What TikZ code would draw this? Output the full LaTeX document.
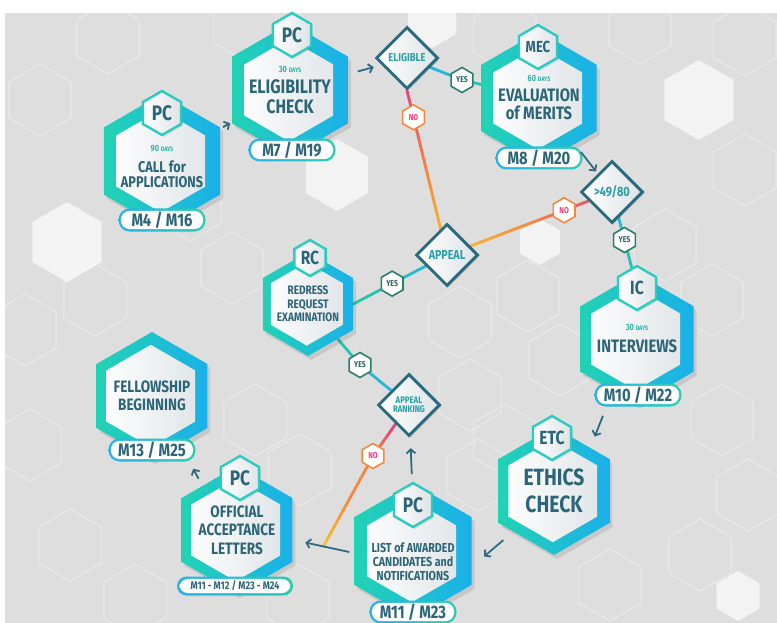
\documentclass[tikz,border=0pt]{standalone}
\usepackage{fontspec}
\newfontfamily\hexfont[FakeStretch=0.82]{Fira Sans}
\usetikzlibrary{shapes.geometric, calc, arrows.meta, shadows}
\pgfdeclarelayer{bg}
\pgfdeclarelayer{links}
\pgfsetlayers{bg,links,main}

\definecolor{bggrey}{HTML}{DEDEDE}
\definecolor{hexteal}{HTML}{22D2B4}
\definecolor{hexblue}{HTML}{1AB0EA}
\definecolor{innerg}{HTML}{DEE3E6}
\definecolor{dtext}{HTML}{2C6577}
\definecolor{daytext}{HTML}{2EB3A6}
\definecolor{badgeteal}{HTML}{2BCBC0}
\definecolor{pillblue}{HTML}{29B2EA}
\definecolor{pillteal}{HTML}{2ACDB2}
\definecolor{decborder}{HTML}{2B6B7F}
\definecolor{dectext}{HTML}{2A9FA6}
\definecolor{yesc}{HTML}{2B7D6D}
\definecolor{yestext}{HTML}{2C5E66}
\definecolor{nopink}{HTML}{EE3D7B}
\definecolor{noorange}{HTML}{F5883C}
\definecolor{noyellow}{HTML}{F8C22E}
\definecolor{linkcyan}{HTML}{25B6E2}
\definecolor{linkteal}{HTML}{2BC6A2}
\colorlet{linkmid}{linkcyan!50!linkteal}
\definecolor{arrowc}{HTML}{2F6A80}

\newcommand\fs[1]{\fontsize{#1}{#1}\selectfont}
\newcommand\stagefont{\hexfont\bfseries}
\newcommand\days[1]{{\color{daytext}\fs{9}#1 \fs{6.5}DAYS}}
\newcommand\hexpath[1]{+(90:#1) -- +(30:#1) -- +(-30:#1) -- +(-90:#1) -- +(-150:#1) -- +(150:#1) -- cycle}
\newcommand\innerhex[1]{\pgfmathsetlengthmacro\hr{#1}%
  \shade[left color=white, right color=innerg] ([xshift=-1.2pt]path picture bounding box.center) \hexpath{\hr};}
% gradient connector: from, to, three colours
\newcommand\gline[5]{%
  \foreach \k in {0,...,19}{%
    \pgfmathsetmacro\ta{\k/20}%
    \pgfmathsetmacro\tb{(\k+1)/20}%
    \ifnum\k<10
      \pgfmathtruncatemacro\pc{95-10*\k}\colorlet{segc}{#3!\pc!#4}%
    \else
      \pgfmathtruncatemacro\pc{195-10*\k}\colorlet{segc}{#4!\pc!#5}%
    \fi
    \draw[link, segc] ($(#1)!\ta!(#2)$) -- ($(#1)!\tb!(#2)$);
  }}

\tikzset{stage/.style={regular polygon, regular polygon sides=6, shape border rotate=30,
           minimum size=#1, inner sep=0pt, left color=hexteal, right color=hexblue,
           drop shadow={shadow xshift=3pt, shadow yshift=-4pt, opacity=.1, fill=black},
           path picture={\innerhex{0.4*#1}}, text=dtext, align=center},
         stage/.default=128pt,
         badge/.style={regular polygon, regular polygon sides=6, shape border rotate=30,
           minimum size=#1, inner sep=0pt, draw=badgeteal, line width=2.4pt,
           left color=white, right color=innerg, text=dtext, font=\stagefont\fs{21},
           drop shadow={shadow xshift=1.5pt, shadow yshift=-2pt, opacity=.1, fill=black}},
         badge/.default=44pt,
         pill/.style={rectangle, rounded corners=11pt, minimum width=87pt, minimum height=23pt,
           inner sep=0pt, left color=pillblue, right color=pillteal, text=dtext, font=\stagefont\fs{18},
           path picture={\shade[left color=white, right color=white!85!innerg, rounded corners=8.6pt]
             ([shift={(2.4pt,2.4pt)}]path picture bounding box.south west) rectangle
             ([shift={(-2.4pt,-2.4pt)}]path picture bounding box.north east);}},
         decision/.style={diamond, aspect=1, minimum size=62pt, inner sep=0pt, draw=decborder,
           line width=3pt, left color=white, right color=innerg, text=dectext,
           font=\stagefont\fs{11.5}, align=center,
           drop shadow={shadow xshift=1.5pt, shadow yshift=-2pt, opacity=.1, fill=black}},
         tag/.style={regular polygon, regular polygon sides=6, shape border rotate=30,
           minimum size=25pt, inner sep=0pt, fill=white, line width=1.6pt, font=\stagefont\fs{8.5}},
         yestag/.style={tag, draw=yesc, text=yestext},
         notag/.style={tag, draw=noorange, text=nopink},
         link/.style={line width=2.8pt, line cap=round},
         flow/.style={draw=arrowc, line width=1.8pt, -{Straight Barb[length=4pt,width=9pt]}},
         bghex/.style={draw=white, line width=1pt, opacity=.4},
        }

\begin{document}
\begin{tikzpicture}[x=1pt, y=-1pt]
        \useasboundingbox (0,0) rectangle (777,623);
        \begin{pgfonlayer}{bg}
        \fill[white] (0,0) rectangle (777,623);
        \fill[bggrey] (5,13) rectangle (777,623);
        \foreach \x/\y in {108/38, 40/100, 245/25, 505/35, 640/28, 745/40, 190/205, 745/170,
                           665/245, 25/330, 95/300, 232/268, 460/322, 528/296, 712/300, 30/445,
                           255/420, 300/470, 470/395, 505/440, 722/420, 70/545, 135/600, 298/600,
                           478/475, 610/585, 700/555, 748/495, 560/360}
            \draw[bghex] (\x,\y) \hexpath{36pt};
        \foreach \x/\y/\r in {699/100/40pt, 67/242/40pt, 337/175/36pt, 540/242/23pt, 738/596/25pt, 432/20/28pt}
            \fill[white, opacity=.65] (\x,\y) \hexpath{\r};
        \end{pgfonlayer}

        % stages
        \node[stage, font=\stagefont\fs{15.5}](call)at(162,161){\rule{0pt}{18pt}\days{90}\\[5pt]CALL for\\APPLICATIONS};
        \node[stage, font=\stagefont\fs{19.5}](elig)at(290,90){\days{30}\\[2pt]ELIGIBILITY\\CHECK};
        \node[stage, font=\stagefont\fs{18}](merits)at(539,98){\days{60}\\[2pt]EVALUATION\\of MERITS};
        \node[stage, font=\stagefont\fs{18}](intv)at(637,339){\days{30}\\[4pt]INTERVIEWS};
        \node[stage, font=\stagefont\fs{23.5}](ethics)at(554,491){ETHICS\\[3pt]CHECK};
        \node[stage, font=\stagefont\fs{13}](list)at(413,551){\rule{0pt}{32pt}LIST of AWARDED\\[1pt]CANDIDATES and\\[1pt]NOTIFICATIONS};
        \node[stage, font=\stagefont\fs{16.5}](offl)at(237,530){OFFICIAL\\[2pt]ACCEPTANCE\\[2pt]LETTERS};
        \node[stage, font=\stagefont\fs{16.5}](fellow)at(152,396){FELLOWSHIP\\[2pt]BEGINNING};
        \node[stage=104pt, font=\stagefont\fs{12.3}](redress)at(308,304){REDRESS\\[1pt]REQUEST\\[1pt]EXAMINATION};

        % committees
        \node[badge](cpc)at(162,113){PC};
        \node[badge](epc)at(292,35){PC};
        \node[badge, font=\stagefont\fs{16}](mec)at(538,47){MEC};
        \node[badge, font=\stagefont\fs{19}](ipc)at(637,288){IC};
        \node[badge, font=\stagefont\fs{19}](etc)at(552,438){ETC};
        \node[badge](lpc)at(413,505){PC};
        \node[badge](opc)at(240,478){PC};
        \node[badge=36pt, font=\stagefont\fs{19}](rc)at(310,258){RC};

        % months
        \node[pill](m4)at(162,220){M4 / M16};
        \node[pill](m7)at(292,150){M7 / M19};
        \node[pill](m8)at(539,158){M8 / M20};
        \node[pill](m10)at(638,395){M10 / M22};
        \node[pill](m11)at(413,612){M11 / M23};
        \node[pill, minimum width=116pt, minimum height=19pt, rounded corners=9.5pt, font=\stagefont\fs{11}](m1124)at(235,586){M11 - M12 / M23 - M24};
        \node[pill](m13)at(152,450){M13 / M25};

        % decisions
        \node[decision](eligible)at(407,58){ELIGIBLE};
        \node[decision, font=\stagefont\fs{13}](appeal)at(447,255){APPEAL};
        \node[decision, font=\stagefont\fs{13.5}](score)at(612,192){>49/80};
        \node[decision, font=\stagefont\fs{9.5}](ranking)at(409,405){APPEAL\\RANKING};

        % answers
        \node[yestag](yes1)at(462,80){YES};
        \node[notag](no1)at($(eligible.south)!0.163!(appeal)$){NO};
        \node[notag](no2)at($(score)!0.29!(appeal)$){NO};
        \node[yestag](yes3)at($(score)!0.5!(ipc)$){YES};
        \node[yestag](yes4)at($(appeal)!0.585!(redress.east)$){YES};
        \node[yestag](yes5)at(360,365){YES};
        \node[notag](no3)at(373,456){NO};
        \coordinate(noend)at($(list.182)!0.5!(offl.-10)$);

        \begin{pgfonlayer}{links}
        \gline{eligible}{yes1}{linkcyan}{linkcyan}{linkmid}
        \gline{yes1}{merits}{linkmid}{linkteal}{linkteal}
        \gline{eligible.south}{appeal}{nopink}{noorange}{noyellow}
        \gline{score}{appeal}{nopink}{noorange}{noyellow}
        \gline{score}{ipc}{linkcyan}{linkmid}{linkteal}
        \gline{appeal}{redress.east}{linkcyan}{linkmid}{linkteal}
        \gline{redress}{yes5}{linkteal}{linkteal}{linkmid}
        \gline{yes5}{ranking}{linkmid}{linkcyan}{linkcyan}
        \gline{ranking}{no3}{nopink}{nopink}{noorange}
        \gline{no3}{noend}{noorange}{noorange}{noyellow}
        \end{pgfonlayer}

        \draw[flow, shorten <=3pt, shorten >=2pt](call)--(elig);
        \draw[flow, shorten <=10pt, shorten >=8pt](elig)--(eligible);
        \draw[flow, shorten <=10pt, shorten >=3pt](merits)--(score);
        \draw[flow, shorten <=27pt, shorten >=12pt](intv.-115)--(ethics.50);
        \draw[flow, shorten <=13pt, shorten >=16pt](ethics.-135)--(list.-15);
        \draw[flow, shorten <=8pt, shorten >=12pt](lpc)--(ranking);
        \draw[flow, shorten <=5pt, shorten >=13pt](list.182)--(offl.-10);
        \draw[flow, shorten <=8pt, shorten >=28pt](offl.128)--(fellow.-60);
\end{tikzpicture}
\end{document}
